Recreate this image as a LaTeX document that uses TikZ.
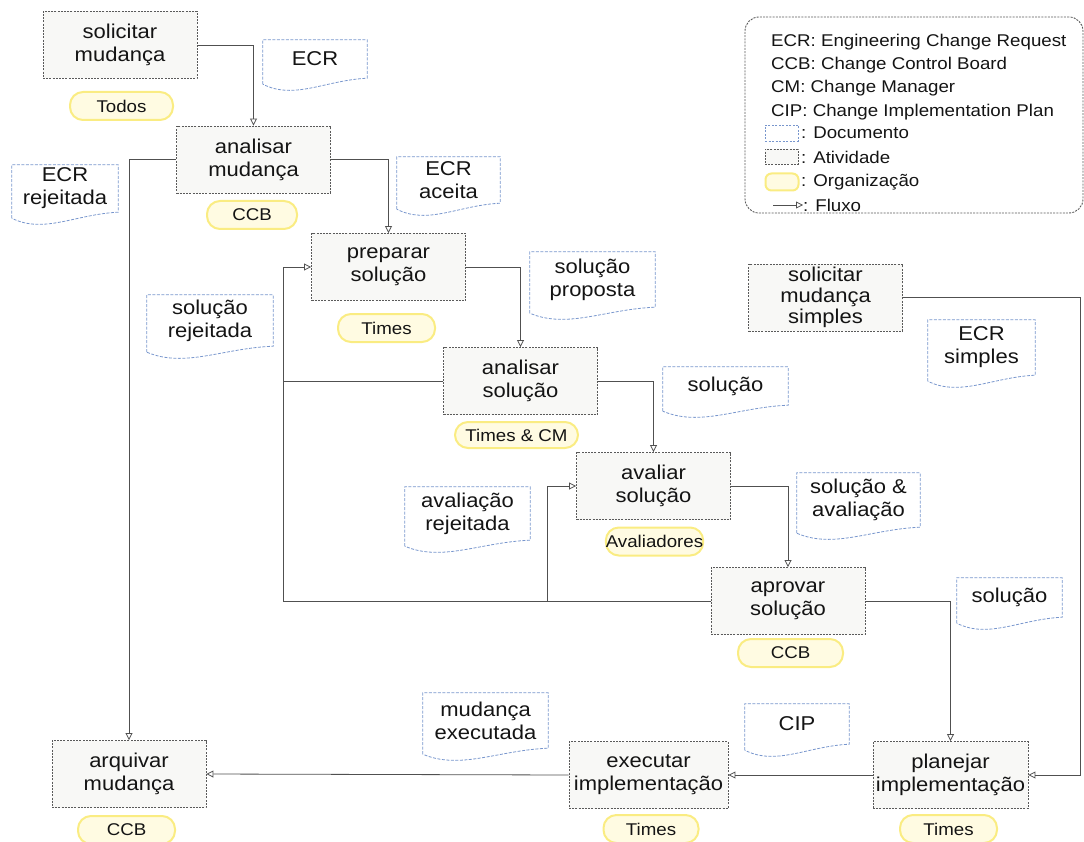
\documentclass[tikz,border=0pt]{standalone}
\usepackage{fontspec}
\setmainfont{Liberation Sans}[FakeStretch=1.1]
\usetikzlibrary{arrows.meta,calc}

\definecolor{boxline}{RGB}{90,90,90}
\definecolor{boxfill}{RGB}{248,248,246}
\definecolor{docline}{RGB}{120,150,205}
\definecolor{orgline}{RGB}{250,236,130}
\definecolor{orgfill}{RGB}{255,251,226}
\definecolor{flowline}{RGB}{80,80,80}
\definecolor{inkcol}{RGB}{20,20,20}

% document symbol: text node plus a frame with a wavy lower edge
\newcommand\docbox[6]{%
  \node[doctext, minimum width=#4pt, minimum height=#5pt] (#1) at (#2,#3) {#6};
  \draw[docedge] ($(#1.south west)+(0,6)$) -- (#1.north west) -- (#1.north east) -- (#1.south east)
     .. controls ($(#1.south east)+(-0.4*#4,2)$) and ($(#1.south west)+(0.3*#4,22)$) .. ($(#1.south west)+(0,6)$);
}

\begin{document}
\begin{tikzpicture}[x=1pt,y=-1pt,
  activity/.style={draw=boxline, dash pattern=on 2pt off 1.2pt, line width=0.9pt, fill=boxfill,
    align=center, text=inkcol, font=\fontsize{20}{23}\selectfont, inner sep=0pt,
    minimum width=154pt, minimum height=67pt},
  doctext/.style={align=center, text=inkcol, font=\fontsize{20}{23}\selectfont, inner sep=0pt},
  docedge/.style={draw=docline, dash pattern=on 3pt off 1.5pt, line width=0.8pt},
  org/.style={draw=orgline, line width=2pt, fill=orgfill, rounded corners=13pt,
    minimum height=28pt, inner sep=0pt, font=\fontsize{17}{20}\selectfont, text=inkcol},
  flow/.style={draw=flowline, line width=0.8pt, -{Triangle[open,length=7pt,width=7pt]}},
  link/.style={draw=flowline, line width=0.8pt},
  legtext/.style={anchor=west, inner sep=0pt, text=inkcol, font=\fontsize{17}{20}\selectfont},
]
\useasboundingbox (0,0) rectangle (1084,842);

% ---------- activities ----------
\node[activity] (solmud)  at (120,45)    {solicitar\\mudança};
\node[activity] (anmud)   at (253.5,159.5) {analisar\\mudança};
\node[activity] (prep)    at (388.5,267) {preparar\\solução};
\node[activity] (ansol)   at (520.5,381) {analisar\\solução};
\node[activity] (avsol)   at (653.5,486) {avaliar\\solução};
\node[activity] (aprsol)  at (788,601)   {aprovar\\solução};
\node[activity, font=\fontsize{20}{21}\selectfont] (solsimp) at (825.5,297.5) {solicitar\\mudança\\simples};
\node[activity] (arq)     at (129,774)   {arquivar\\mudança};
\node[activity, minimum width=159pt] (exec) at (648.5,775) {executar\\implementação};
\node[activity, minimum width=155pt] (plan) at (950.5,775) {planejar\\implementação};

% ---------- organisations ----------
\node[org, minimum width=103pt] (oTodos) at (121.5,106) {Todos};
\node[org, minimum width=90pt]  (oCCB1)  at (252,215)   {CCB};
\node[org, minimum width=97pt]  (oTim1)  at (386.5,328) {Times};
\node[org, minimum width=123pt, minimum height=26pt] (oTCM) at (516.5,435) {Times \& CM};
\node[org, minimum width=95pt]  (oAval)  at (654.5,541.5) {Avaliadores};
\node[org, minimum width=105pt] (oCCB2)  at (790.5,653) {CCB};
\node[org, minimum width=97pt]  (oCCB3)  at (126.5,830) {CCB};
\node[org, minimum width=95pt]  (oTim2)  at (651,829)   {Times};
\node[org, minimum width=97pt]  (oTim3)  at (948.5,829) {Times};

% ---------- documents ----------
\docbox{dECR}{315}{59}{104}{38}{ECR}
\docbox{dECRrej}{65}{188.5}{106}{47}{ECR\\rejeitada}
\docbox{dECRac}{448.5}{180}{103}{46}{ECR\\aceita}
\docbox{dSolProp}{592.5}{279.5}{125}{55}{solução\\proposta}
\docbox{dSolRej}{210}{320.5}{126}{51}{solução\\rejeitada}
\docbox{dSol1}{725.5}{386}{125}{38}{solução}
\docbox{dECRs}{981.5}{347.5}{107}{55}{ECR\\simples}
\docbox{dAvRej}{467.5}{513.5}{125}{53}{avaliação\\rejeitada}
\docbox{dSolAv}{858.5}{500}{123}{54}{solução \&\\avaliação}
\docbox{dSol2}{1009.5}{597.5}{105}{39}{solução}
\docbox{dMudEx}{485.5}{720.5}{125}{55}{mudança\\executada}
\docbox{dCIP}{797}{724}{104}{40}{CIP}

% ---------- flows ----------
\coordinate (rejx) at (283,0);
\coordinate (avx) at (547,0);
\coordinate (simx) at (1080,0);

\draw[flow] (solmud.east) -| (anmud.north);
\draw[flow] (anmud.east) -| (prep.north);
\draw[flow] (anmud.west) -| (arq.north);
\draw[flow] (prep.east) -| (ansol.north);
\draw[flow] (ansol.east) -| (avsol.north);
\draw[flow] (avsol.east) -| (aprsol.north);
\draw[flow] (aprsol.east) -| (plan.north);
\draw[link] (aprsol.west) -- (aprsol.west -| rejx);
\draw[flow] (aprsol.west -| rejx) |- (prep.west);
\draw[link] (ansol.west) -- (ansol.west -| rejx);
\draw[flow] (aprsol.west -| avx) |- (avsol.west);
\draw[link] (solsimp.east) -- (solsimp.east -| simx);
\draw[flow] (solsimp.east -| simx) |- (plan.east);
\draw[flow] (plan.west) -- (exec.east);
\draw[flow] (exec.west) -- (arq.east);

% ---------- legend ----------
\node[draw=boxline, dash pattern=on 2pt off 1.2pt, line width=0.9pt, rounded corners=14pt,
      minimum width=338pt, minimum height=196pt, inner sep=0pt] (legend) at (914,115) {};
\node[legtext] (lg1) at (771,42)  {ECR: Engineering Change Request};
\node[legtext] (lg2) at (771,65)  {CCB: Change Control Board};
\node[legtext] (lg3) at (771,88)  {CM: Change Manager};
\node[legtext] (lg4) at (771,112) {CIP: Change Implementation Plan};
\node[draw=docline, dash pattern=on 2pt off 1.5pt, line width=0.7pt, minimum width=33pt,
      minimum height=16pt, inner sep=0pt] (lgdoc) at (781.5,133) {};
\node[legtext] (lg5) at (801,133) {: Documento};
\node[draw=boxline, dash pattern=on 2pt off 1.2pt, line width=0.8pt, fill=boxfill,
      minimum width=33pt, minimum height=15pt, inner sep=0pt] (lgact) at (781.5,157) {};
\node[legtext] (lg6) at (801,157) {: Atividade};
\node[draw=orgline, line width=2pt, fill=orgfill, rounded corners=6pt, minimum width=33pt,
      minimum height=17pt, inner sep=0pt] (lgorg) at (782,182) {};
\node[legtext] (lg7) at (801,182) {: Organização};
\coordinate (lgf1) at (773,205);
\node[legtext] (lg8) at (803,205) {: Fluxo};
\draw[flow] (lgf1) -- (lg8.west);
\end{tikzpicture}
\end{document}
